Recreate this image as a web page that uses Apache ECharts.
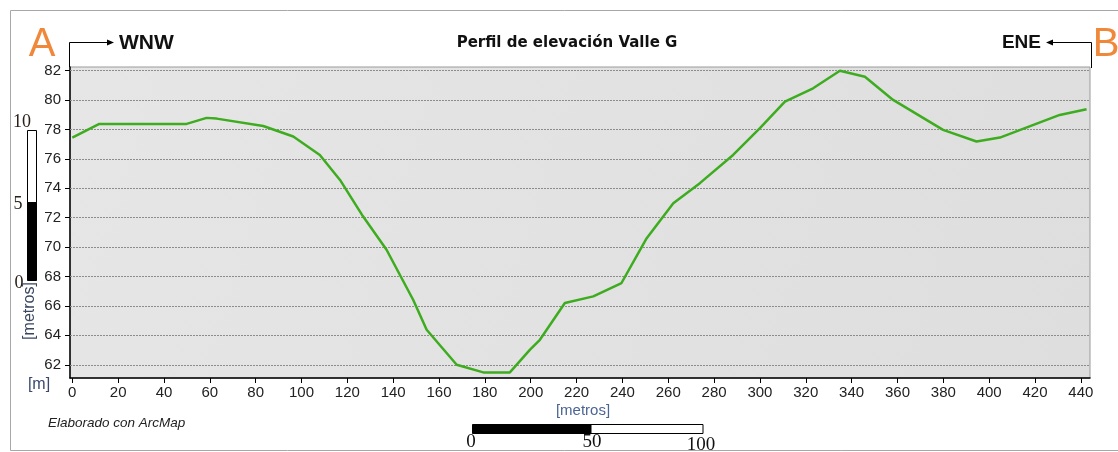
<!DOCTYPE html>
<html>
<head>
<meta charset="utf-8">
<script src="https://cdn.jsdelivr.net/npm/echarts@6/dist/echarts.min.js"></script>
<style>
html,body{margin:0;padding:0;background:#fff;}
#chart{width:1118px;height:452px;}
</style>
</head>
<body>
<div id="chart"></div>
<script>
// Distance along profile [metros]
var distance = [0, 11.8, 49.9, 58.6, 63, 83.3, 96.4, 108, 116.8, 126.9, 137.1, 148.7, 154.6, 167.7, 179.3, 190.9, 199.7, 204, 214.9, 227.3, 239.6, 250.6, 262.2, 273.8, 288.3, 300, 310.9, 323.2, 334.9, 345.8, 358.1, 379.9, 394.5, 404.7, 430.8, 442.5];
// Elevation [m]
var elevation = [77.45, 78.38, 78.38, 78.79, 78.74, 78.24, 77.52, 76.27, 74.57, 72.08, 69.82, 66.42, 64.38, 62.0, 61.48, 61.48, 63.03, 63.7, 66.2, 66.65, 67.56, 70.61, 72.99, 74.35, 76.27, 78.09, 79.89, 80.8, 82.0, 81.59, 80.01, 77.97, 77.18, 77.45, 78.99, 79.38];
// Tick labels
var xTicks = [0,20,40,60,80,100,120,140,160,180,200,220,240,260,280,300,320,340,360,380,400,420,440];
var yTicks = [62,64,66,68,70,72,74,76,78,80,82];
var titleText = 'Perfil de elevación Valle G';

var narrow = "'Liberation Sans Narrow', 'Liberation Sans', Arial, sans-serif";
var sans = "'Liberation Sans', Arial, sans-serif";
var serif = "'Liberation Serif', 'DejaVu Serif', serif";

var chart = echarts.init(document.getElementById('chart'));
var lineData = distance.map(function(d, i){ return [d, elevation[i]]; });

chart.setOption({
  animation: false,
  backgroundColor: '#ffffff',
  grid: {
    left: 70, right: 28, top: 67, bottom: 74,
    show: true,
    backgroundColor: {
      type: 'linear', x: 0, y: 0, x2: 1, y2: 1,
      colorStops: [{offset: 0, color: '#e6e6e6'}, {offset: 1, color: '#dedede'}]
    },
    borderColor: '#9a9a9a', borderWidth: 1
  },
  xAxis: {
    type: 'value', min: -1, max: 444,
    axisLine: {show: true, onZero: false, lineStyle: {color: '#000', width: 1.5}},
    axisTick: {show: true, length: 5, customValues: xTicks, lineStyle: {color: '#000'}},
    axisLabel: {customValues: xTicks, color: '#222', fontFamily: narrow, fontSize: 15, margin: 7},
    splitLine: {show: false}
  },
  yAxis: {
    type: 'value', min: 61.1, max: 82.25,
    axisLine: {show: true, onZero: false, lineStyle: {color: '#000', width: 1.5}},
    axisTick: {show: true, length: 5, customValues: yTicks, lineStyle: {color: '#000'}},
    axisLabel: {customValues: yTicks, color: '#222', fontFamily: narrow, fontSize: 15, margin: 9},
    splitLine: {show: false}
  },
  series: [{
    type: 'line',
    data: lineData,
    showSymbol: false,
    symbol: 'none',
    lineStyle: {color: '#3dac1f', width: 2.5},
    z: 5,
    markLine: {
      silent: true,
      symbol: ['none', 'none'],
      label: {show: false},
      lineStyle: {color: '#8c8c8c', type: [2, 1], width: 1},
      data: yTicks.map(function(v){ return {yAxis: v}; }),
      z: 1
    }
  }],
  graphic: [
    // outer frame
    {type: 'rect', shape: {x: 10.5, y: 10.5, width: 1120, height: 440}, style: {fill: 'none', stroke: '#a8a8a8', lineWidth: 1}, z: -10},
    // title
    {type: 'text', style: {text: titleText, x: 567, y: 43, align: 'center', verticalAlign: 'middle', fontFamily: "'DejaVu Sans', sans-serif", fontWeight: 'bold', fontSize: 15, fill: '#111'}},
    // A / WNW
    {type: 'text', style: {text: 'A', x: 42, y: 45, align: 'center', verticalAlign: 'middle', fontFamily: sans, fontSize: 40, fill: '#f0883a'}},
    {type: 'polyline', shape: {points: [[69.5, 67], [69.5, 42.5], [108, 42.5]]}, style: {stroke: '#000', lineWidth: 1, fill: 'none'}},
    {type: 'polygon', shape: {points: [[107, 39.5], [114, 42.5], [107, 45.5]]}, style: {fill: '#000'}},
    {type: 'text', style: {text: 'WNW', x: 119, y: 43, align: 'left', verticalAlign: 'middle', fontFamily: sans, fontWeight: 'bold', fontSize: 21, fill: '#111'}},
    // B / ENE
    {type: 'text', style: {text: 'B', x: 1106, y: 45, align: 'center', verticalAlign: 'middle', fontFamily: sans, fontSize: 40, fill: '#f0883a'}},
    {type: 'polyline', shape: {points: [[1091.5, 68], [1091.5, 42.5], [1052, 42.5]]}, style: {stroke: '#000', lineWidth: 1, fill: 'none'}},
    {type: 'polygon', shape: {points: [[1053, 39.5], [1046, 42.5], [1053, 45.5]]}, style: {fill: '#000'}},
    {type: 'text', style: {text: 'ENE', x: 1041, y: 43, align: 'right', verticalAlign: 'middle', fontFamily: sans, fontWeight: 'bold', fontSize: 19, fill: '#111'}},
    // vertical scale bar
    {type: 'rect', shape: {x: 27.5, y: 130.5, width: 9, height: 72}, style: {fill: '#fff', stroke: '#000', lineWidth: 1}},
    {type: 'rect', shape: {x: 27.5, y: 202.5, width: 9, height: 78}, style: {fill: '#000', stroke: '#000', lineWidth: 1}},
    {type: 'text', style: {text: '10', x: 22, y: 122, align: 'center', verticalAlign: 'middle', fontFamily: serif, fontSize: 18, fill: '#2a2018'}},
    {type: 'text', style: {text: '5', x: 18, y: 204, align: 'center', verticalAlign: 'middle', fontFamily: serif, fontSize: 18, fill: '#2a2018'}},
    {type: 'text', style: {text: '0', x: 19, y: 283, align: 'center', verticalAlign: 'middle', fontFamily: serif, fontSize: 18, fill: '#2a2018'}},
    {type: 'text', x: 30, y: 311, rotation: Math.PI / 2, style: {text: '[metros]', x: 0, y: 0, align: 'center', verticalAlign: 'middle', fontFamily: sans, fontSize: 16, fill: '#3a4660'}},
    {type: 'text', style: {text: '[m]', x: 39, y: 385, align: 'center', verticalAlign: 'middle', fontFamily: sans, fontSize: 16, fill: '#3a4870'}},
    // x-axis unit
    {type: 'text', style: {text: '[metros]', x: 583, y: 411, align: 'center', verticalAlign: 'middle', fontFamily: sans, fontSize: 15, fill: '#4a6494'}},
    // credit
    {type: 'text', style: {text: 'Elaborado con ArcMap', x: 48, y: 423, align: 'left', verticalAlign: 'middle', fontFamily: narrow, fontStyle: 'italic', fontSize: 13.5, fill: '#222'}},
    // horizontal scale bar
    {type: 'rect', shape: {x: 472.5, y: 424.5, width: 118.5, height: 9}, style: {fill: '#000', stroke: '#000', lineWidth: 1}},
    {type: 'rect', shape: {x: 591, y: 424.5, width: 112, height: 9}, style: {fill: '#fff', stroke: '#000', lineWidth: 1}},
    {type: 'text', style: {text: '0', x: 471, y: 442, align: 'center', verticalAlign: 'middle', fontFamily: serif, fontSize: 19, fill: '#111'}},
    {type: 'text', style: {text: '50', x: 592, y: 442, align: 'center', verticalAlign: 'middle', fontFamily: serif, fontSize: 19, fill: '#111'}},
    {type: 'text', style: {text: '100', x: 701, y: 445, align: 'center', verticalAlign: 'middle', fontFamily: serif, fontSize: 19, fill: '#111'}}
  ]
});
</script>
</body>
</html>
